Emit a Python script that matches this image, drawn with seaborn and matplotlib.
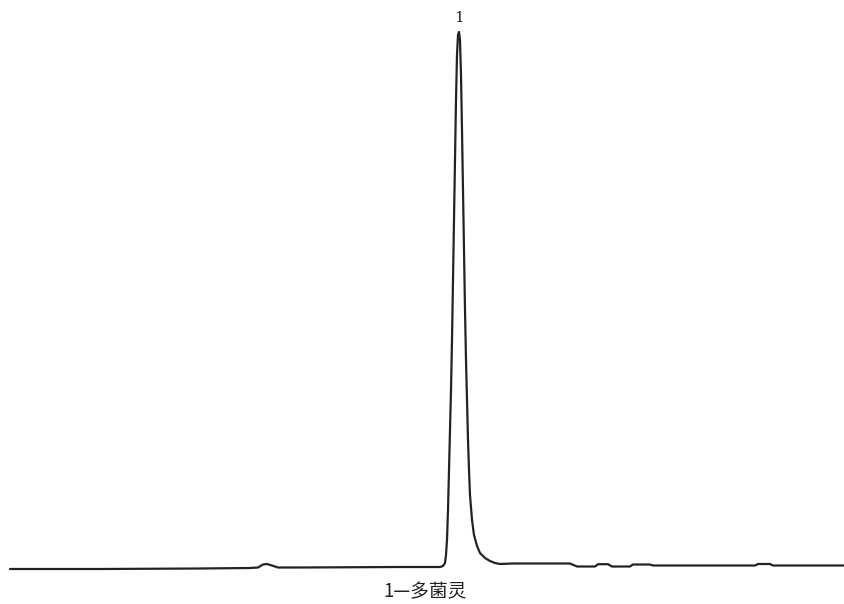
import matplotlib
matplotlib.use("Agg")
import matplotlib.pyplot as plt
import seaborn as sns
import pandas as pd

sns.set_theme(style="white")
plt.rcParams["font.family"] = ["Noto Sans CJK SC", "DejaVu Sans"]

# === Chromatogram trace ===
# retention position (arbitrary units) and detector response (arbitrary units)
rt = [10, 100, 200, 250, 258, 263, 267, 272, 278, 300, 400, 440, 443, 445,
      446, 447, 448, 449, 450, 451, 452, 453, 454, 455, 456, 457, 458, 459,
      460, 461, 462, 463, 464, 465, 466, 467, 468, 469, 470, 472, 474, 477,
      480, 485, 490, 495, 500, 513, 570, 577, 595, 598, 608, 612, 630, 633,
      650, 653, 700, 755, 758, 770, 773, 845]
response = [35, 35, 35.5, 36, 36.5, 39.5, 40, 38.5, 36.5, 36.5, 37, 37, 38, 41,
            49, 64, 94, 134, 174, 214, 264, 324, 384, 444, 504, 549, 569, 572,
            564, 529, 474, 414, 354, 294, 244, 204, 164, 134, 109, 84, 69, 58,
            51, 46, 43, 41, 40, 40.5, 40.5, 37.5, 37.5, 39.8, 39.8, 37.5, 37.5, 39.5,
            39.5, 38.5, 38.5, 38.5, 40, 40, 38.5, 38.5]

peak_rt = [459]
peak_labels = ["1"]
caption = "1—多菌灵"

df = pd.DataFrame({"rt": rt, "response": response})

fig = plt.figure(figsize=(8.45, 6.04), dpi=100)
ax = fig.add_axes([0, 0, 1, 1])
sns.lineplot(data=df, x="rt", y="response", ax=ax, color="#222222",
             linewidth=1.6, sort=False)
ax.set_xlim(0, 845)
ax.set_ylim(0, 604)
ax.axis("off")

# peak number above apex
for x, lab in zip(peak_rt, peak_labels):
    ax.text(x, 586, lab, ha="center", va="center", fontsize=11,
            family=["DejaVu Serif"], color="#222222")

ax.text(425, 12, caption, ha="center", va="center", fontsize=13.5,
        color="#222222")

plt.savefig("out.png", dpi=100)
